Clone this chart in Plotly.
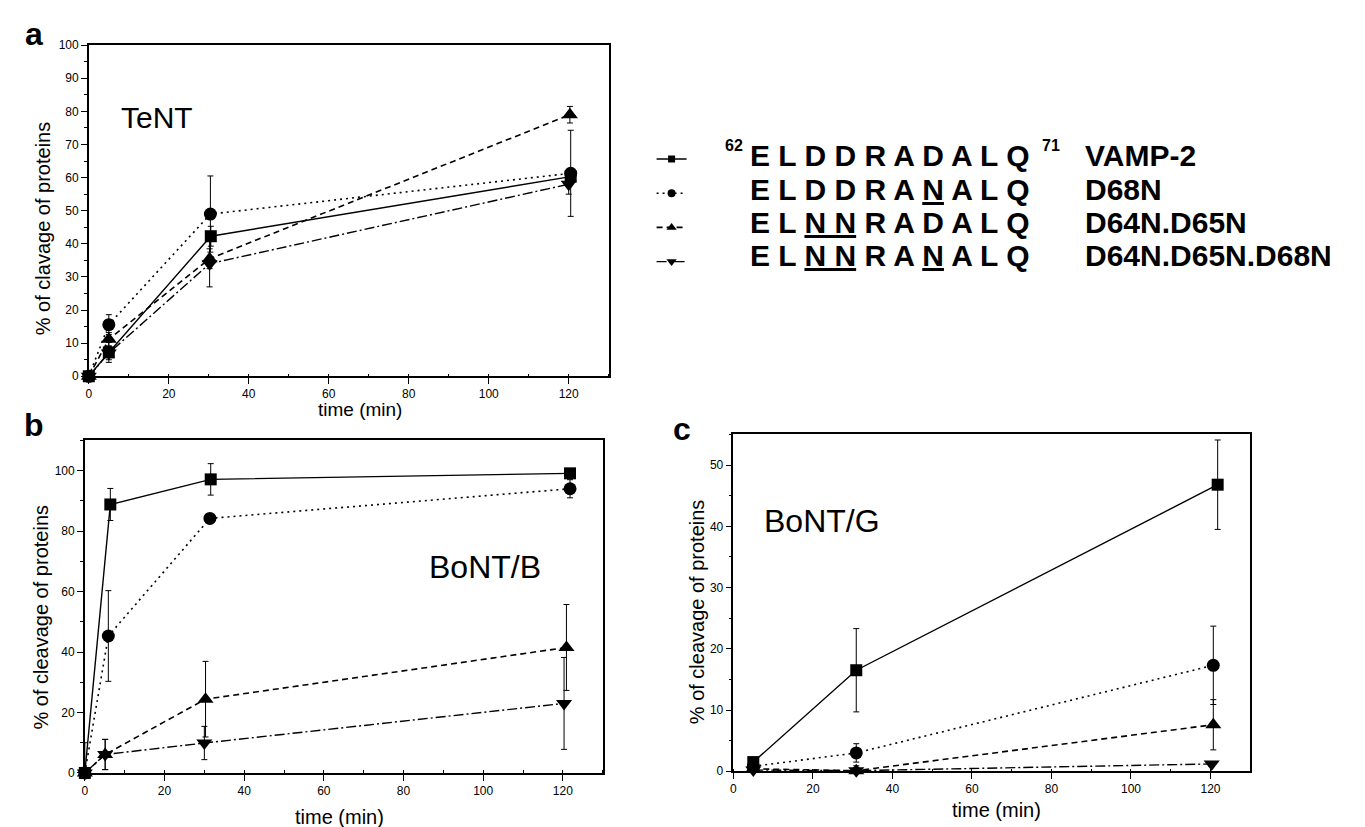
import plotly.graph_objects as go

# ---------------- data ----------------
series_names = ["VAMP-2", "D68N", "D64N.D65N", "D64N.D65N.D68N"]
sequences = [
    "E L D D R A D A L Q",
    "E L D D R A <u>N</u> A L Q",
    "E L <u>N N</u> R A D A L Q",
    "E L <u>N N</u> R A <u>N</u> A L Q",
]
x_ticks = [0, 20, 40, 60, 80, 100, 120]

# panel a: TeNT
tent_time = [
    [0, 5, 30.5, 120.5],
    [0, 5, 30.4, 120.5],
    [0, 5, 30.2, 120.3],
    [0, 5, 30.2, 120.0],
]
tent_vals = [
    [0, 7.2, 42.3, 60.3],
    [0, 15.6, 49.0, 61.3],
    [0, 11.2, 35.5, 79.0],
    [0, 7.0, 34.0, 58.0],
]
tent_err = [
    [0, 3.0, 3.0, 2.0],
    [0, 3.0, 11.5, 13.0],
    [0, 2.0, 3.0, 2.5],
    [0, 2.0, 7.0, 3.0],
]

# panel b: BoNT/B
bontb_time = [
    [0, 6.4, 31.6, 121.8],
    [0, 5.9, 31.4, 121.8],
    [0, 5.1, 30.3, 120.9],
    [0, 5.1, 30.0, 120.3],
]
bontb_vals = [
    [0, 88.8, 97.1, 99.1],
    [0, 45.3, 84.2, 94.0],
    [0, 6.1, 24.4, 41.5],
    [0, 6.1, 9.9, 23.0],
]
bontb_err = [
    [0, 5.3, 5.2, 1.5],
    [10.0, 15.0, 1.0, 3.0],
    [0, 5.0, 12.5, 14.2],
    [0, 5.0, 5.5, 15.2],
]

# panel c: BoNT/G
bontg_time = [
    [5.0, 30.9, 121.8],
    [5.0, 30.9, 120.7],
    [5.0, 30.9, 120.7],
    [5.0, 30.9, 120.3],
]
bontg_vals = [
    [1.5, 16.5, 46.8],
    [0.8, 3.0, 17.3],
    [0.4, 0.1, 7.6],
    [0.2, 0.1, 1.2],
]
bontg_err = [
    [0.5, 6.8, 7.3],
    [0, 1.5, 6.4],
    [0, 0.8, 4.1],
    [0, 0.5, 0.3],
]

# ---------------- styles ----------------
W, H = 1365, 827
FONT = "Arial, Liberation Sans, sans-serif"
symbols = ["square", "circle", "triangle-up", "triangle-down"]
msizes = [12, 13, 14, 14]
leg_msizes = [7, 8, 9, 9]
dashes = ["solid", "2px,4px", "6px,4px", "10px,3px,2px,3px"]
lwidths = [1.4, 1.6, 1.6, 1.4]


def fx(p):
    return p / W


def fy(p):
    return 1 - p / H


fig = go.Figure()

panels = [
    ("x", "y", tent_time, tent_vals, tent_err),
    ("x2", "y2", bontb_time, bontb_vals, bontb_err),
    ("x3", "y3", bontg_time, bontg_vals, bontg_err),
]
for xa, ya, tt, vv, ee in panels:
    for i in range(4):
        fig.add_trace(go.Scatter(
            x=tt[i], y=vv[i], xaxis=xa, yaxis=ya,
            mode="lines+markers",
            name=series_names[i],
            legendgroup=series_names[i],
            showlegend=False,
            cliponaxis=False,
            line=dict(color="black", width=lwidths[i], dash=dashes[i]),
            marker=dict(symbol=symbols[i], size=msizes[i], color="black"),
            error_y=dict(type="data", array=ee[i], visible=True,
                         color="black", thickness=1, width=3),
        ))

# legend keys (no data of their own; text drawn as annotations)
for i in range(4):
    fig.add_trace(go.Scatter(
        x=[None], y=[None], mode="lines+markers",
        name="\u00a0", legendgroup=series_names[i], showlegend=True,
        line=dict(color="black", width=lwidths[i], dash=dashes[i]),
        marker=dict(symbol=symbols[i], size=leg_msizes[i], color="black"),
    ))

axis_common = dict(
    showgrid=False, zeroline=False, showline=True, linecolor="black",
    linewidth=1.5, mirror=True, ticks="outside", ticklen=6, tickwidth=1.2,
    tickcolor="black", tickfont=dict(family=FONT, size=12, color="black"),
)


def xaxis(dom, anchor):
    return dict(axis_common, domain=dom, anchor=anchor, range=[0, 130],
                tickvals=x_ticks,
                minor=dict(ticks="inside", ticklen=3, dtick=10,
                           tickcolor="black", showgrid=False))


def yaxis(dom, anchor, rng, dt, mdt):
    return dict(axis_common, domain=dom, anchor=anchor, range=rng, dtick=dt,
                tick0=0,
                minor=dict(ticks="outside", ticklen=3, dtick=mdt,
                           tickcolor="black", showgrid=False))


layout = dict(
    width=W, height=H, margin=dict(l=0, r=0, t=0, b=0),
    paper_bgcolor="white", plot_bgcolor="white",
    font=dict(family=FONT, color="black"),
    xaxis=xaxis([fx(78), fx(599)], "y"),
    yaxis=yaxis([fy(367.5), fy(30.7)], "x", [0, 100], 10, 5),
    xaxis2=xaxis([fx(74), fx(593)], "y2"),
    yaxis2=yaxis([fy(771), fy(432.7)], "x2", [0, 110], 20, 10),
    xaxis3=xaxis([fx(724), fx(1242)], "y3"),
    yaxis3=yaxis([fy(769.3), fy(426.7)], "x3", [0, 55], 10, 5),
    legend=dict(x=fx(642), y=fy(124), xanchor="left", yanchor="top",
                font=dict(family=FONT, size=24), bgcolor="rgba(0,0,0,0)",
                itemsizing="trace", tracegroupgap=0, traceorder="normal"),
    showlegend=True,
)
fig.update_layout(**layout)

ann = []


def text(s, x, y, size, xanchor="center", bold=False, angle=0):
    ann.append(dict(
        text=("<b>%s</b>" % s) if bold else s,
        x=fx(x), y=fy(y), xref="paper", yref="paper",
        xanchor=xanchor, yanchor="middle", showarrow=False,
        textangle=angle,
        font=dict(family=FONT, size=size, color="black"),
    ))


# panel letters
text("a", 23, 19, 32, bold=True)
text("b", 23, 417, 32, bold=True)
text("c", 672, 421, 32, bold=True)
# toxin names
text("TeNT", 108, 104, 30, xanchor="left")
text("BoNT/B", 417, 562, 32, xanchor="left")
text("BoNT/G", 753, 515, 32, xanchor="left")
# axis titles
text("% of clavage of proteins", 32, 217, 20, angle=-90)
text("time (min)", 350, 401, 19)
text("% of cleavage of proteins", 30, 612, 20, angle=-90)
text("time (min)", 329, 816, 20)
text("% of cleavage of proteins", 687, 607, 20, angle=-90)
text("time (min)", 988, 809, 20)
# legend texts
row_y = [143, 177, 211, 245]
for i in range(4):
    text(sequences[i], 739, row_y[i], 30, xanchor="left", bold=True)
    text(series_names[i], 1074, row_y[i], 30, xanchor="left", bold=True)
text("62", 736, 133, 16, xanchor="right", bold=True)
text("71", 1031, 133, 16, xanchor="left", bold=True)

fig.update_layout(annotations=ann)
fig.write_html("out.html")
